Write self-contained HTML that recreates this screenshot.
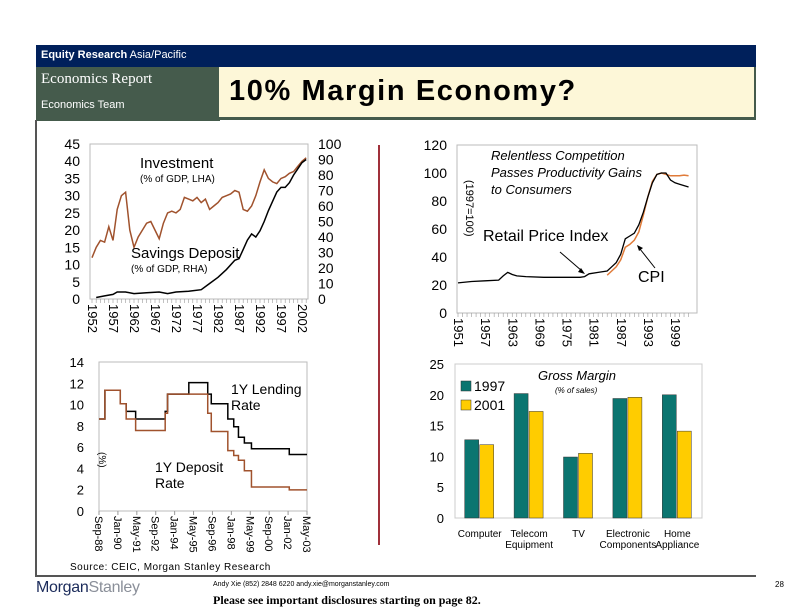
<!DOCTYPE html>
<html><head><meta charset="utf-8"><style>
body{margin:0;width:792px;height:612px;background:#fff;position:relative;overflow:hidden;font-family:"Liberation Sans",sans-serif}
.a{position:absolute}
svg text{font-family:"Liberation Sans",sans-serif}
</style></head><body>
<div class="a" style="left:36px;top:45px;width:720px;height:22px;background:#00205b"></div>
<div class="a" style="left:41px;top:49px;color:#fff;font-size:11px"><b>Equity Research</b> Asia/Pacific</div>
<div class="a" style="left:36px;top:67px;width:184px;height:54px;background:#455b4c"></div>
<div class="a" style="left:41px;top:71px;color:#fff;font-size:15px;font-family:'Liberation Serif',serif">Economics Report</div>
<div class="a" style="left:41px;top:99px;color:#fff;font-size:11px">Economics Team</div>
<div class="a" style="left:219px;top:67px;width:535px;height:50px;background:#fdf7d8;border-right:2px solid #455b4c;border-bottom:3px solid #455b4c"></div>
<div class="a" style="left:229px;top:75px;font-size:29px;font-weight:bold;letter-spacing:1.6px;color:#000">10% Margin Economy?</div>
<div class="a" style="left:35px;top:120px;width:2px;height:456px;background:#555"></div>
<div class="a" style="left:35px;top:575px;width:721px;height:2px;background:#555"></div>
<div class="a" style="left:378px;top:145px;width:2px;height:400px;background:#a0303a"></div>
<div class="a" style="left:70px;top:562px;font-size:10px;letter-spacing:.5px">Source: CEIC, Morgan Stanley Research</div>
<div class="a" style="left:36px;top:579px;font-size:16px;color:#1a2a5a;letter-spacing:-0.3px">Morgan<span style="color:#8a8f99">Stanley</span></div>
<div class="a" style="left:213px;top:581px;font-size:7px">Andy Xie (852) 2848 6220 andy.xie@morganstanley.com</div>
<div class="a" style="left:213px;top:593px;font-size:12px;font-weight:bold;font-family:'Liberation Serif',serif">Please see important disclosures starting on page 82.</div>
<div class="a" style="left:775px;top:580px;font-size:8px">28</div>

<svg class="a" id="s" style="left:0;top:0" width="792" height="612"></svg>
<script>
// Chart 1
const c1Years=[1952,1953,1954,1955,1956,1957,1958,1959,1960,1961,1962,1963,1964,1965,1966,1967,1968,1969,1970,1971,1972,1973,1974,1975,1976,1977,1978,1979,1980,1981,1982,1983,1984,1985,1986,1987,1988,1989,1990,1991,1992,1993,1994,1995,1996,1997,1998,1999,2000,2001,2002,2003];
const c1Invest=[12,15,17,16.5,21,17,26,30,31,20,15,18,20,22,22.5,20,17.5,22,25,25.5,25,26,29.5,29,28.5,29.5,28,29,26,27,28,29.5,30,30.5,31.5,31,26,25.5,27,30,34,37.5,35,34,33.5,35,35.5,36.5,37,38.5,40,41];
const c1SavYears=[1953,1955,1957,1958,1960,1962,1965,1968,1970,1972,1975,1978,1980,1982,1984,1986,1987,1988,1989,1990,1991,1992,1993,1994,1995,1996,1997,1998,1999,2000,2001,2002,2003];
const c1Savings=[1,2,3,4.5,4.5,3.5,4,4.5,3.5,4.5,5,6,10,14,19,25,26,32,38,42,40,44,50,57,63,69,72,72,75,80,84,88,90];
const c1LeftTicks=[0,5,10,15,20,25,30,35,40,45];
const c1RightTicks=[0,10,20,30,40,50,60,70,80,90,100];
const c1XTicks=[1952,1957,1962,1967,1972,1977,1982,1987,1992,1997,2002];
// Chart 2
const c2RpiYears=[1951,1954,1957,1960,1961,1962,1963,1964,1966,1970,1975,1978,1979,1980,1982,1984,1985,1986,1987,1988,1989,1990,1991,1992,1993,1994,1995,1996,1997,1998,1999,2000,2001,2002];
const c2Rpi=[21.5,22.5,23,23.5,26.5,29,27.5,26.5,26,25.5,25.5,25.5,26,28,29,30,33,36,42,53,55,57,63,72,83,93,99,100,100,95,93,92,91,90];
const c2CpiYears=[1984,1985,1986,1987,1988,1989,1990,1991,1992,1993,1994,1995,1996,1997,1998,1999,2000,2001,2002];
const c2Cpi=[27,30,33,38,47,49,52,58,70,83,94,99,100,99,98,98,98,98.5,98];
const c2YTicks=[0,20,40,60,80,100,120];
const c2XTicks=[1951,1957,1963,1969,1975,1981,1987,1993,1999];
// Chart 3 (months since Sep-88)
const c3LendMonths=[0,5,18,23,31,56,58,76,92,95,109,114,118,123,129,161,176];
const c3Lend=[8.64,11.34,10.08,9.36,8.64,9.36,10.98,12.06,10.98,10.08,8.64,7.92,6.93,6.39,5.85,5.31,5.31];
const c3DepMonths=[0,5,18,23,31,56,58,92,95,109,114,118,123,129,161,176];
const c3Dep=[8.64,11.34,10.08,8.64,7.56,9.18,10.98,9.18,7.47,5.67,5.22,4.77,3.78,2.25,1.98,1.98];
const c3YTicks=[0,2,4,6,8,10,12,14];
const c3XLabels=["Sep-88","Jan-90","May-91","Sep-92","Jan-94","May-95","Sep-96","Jan-98","May-99","Sep-00","Jan-02","May-03"];
// Chart 4
const c4Cats=[["Computer"],["Telecom","Equipment"],["TV"],["Electronic","Components"],["Home","Appliance"]];
const c4V1997=[12.7,20.2,9.9,19.4,20.0];
const c4V2001=[11.9,17.3,10.5,19.6,14.1];
const c4YTicks=[0,5,10,15,20,25];

const S=document.getElementById('s');const NS='http://www.w3.org/2000/svg';
function el(t,a,txt){const e=document.createElementNS(NS,t);for(const k in a)e.setAttribute(k,a[k]);if(txt!==undefined)e.textContent=txt;S.appendChild(e);return e;}
function lin(x0,x1,d0,d1){return v=>x0+(v-d0)*(x1-x0)/(d1-d0);}
function pathOf(xs,ys,fx,fy,step){let d='';for(let i=0;i<xs.length;i++){const x=fx(xs[i]),y=fy(ys[i]);if(i==0)d='M'+x+','+y;else if(step)d+=' H'+x+' V'+y;else d+=' L'+x+','+y;}return d;}

// ---- Chart 1
{const X=lin(92,302,1952,2002),YL=lin(299,144,0,45),YR=lin(299,144,0,100);
let f=el('rect',{x:90,y:144,width:218,height:155,fill:'none',stroke:'#bbb'});

c1LeftTicks.forEach(t=>{let e=el('text',{x:80,y:YL(t)+5,'text-anchor':'end','font-size':14},t);});
c1RightTicks.forEach(t=>{let e=el('text',{x:318,y:YR(t)+5,'font-size':14},t);});
c1XTicks.forEach(t=>{let e=el('text',{x:0,y:0,'font-size':13,transform:`translate(${X(t)-4},304) rotate(90)`},t);});
for(let y=1952;y<=2003;y++)el('line',{x1:X(y),x2:X(y),y1:299,y2:303,stroke:'#999','stroke-width':.6});
let p=el('path',{d:pathOf(c1Years,c1Invest,X,YL),fill:'none',stroke:'#a0522d','stroke-width':1.5});

p=el('path',{d:pathOf(c1SavYears,c1Savings,X,YR),fill:'none',stroke:'#000','stroke-width':1.5});

let t=el('text',{x:140,y:168,'font-size':15},'Investment');
t=el('text',{x:140,y:182,'font-size':10},'(% of GDP, LHA)');
t=el('text',{x:131,y:258,'font-size':15},'Savings Deposit');
t=el('text',{x:131,y:272,'font-size':10},'(% of GDP, RHA)');}

// ---- Chart 2
{const X=lin(458,675,1951,1999),Y=lin(313,145,0,120);
let f=el('rect',{x:457,y:145,width:240,height:168,fill:'none',stroke:'#bbb'});

c2YTicks.forEach(t=>{let e=el('text',{x:447,y:Y(t)+5,'text-anchor':'end','font-size':14},t);});
c2XTicks.forEach(t=>{let e=el('text',{x:0,y:0,'font-size':13,transform:`translate(${X(t)-4},318) rotate(90)`},t);});
for(let y=1951;y<=2002;y++)el('line',{x1:X(y),x2:X(y),y1:313,y2:317,stroke:'#999','stroke-width':.6});
let p=el('path',{d:pathOf(c2CpiYears,c2Cpi,X,Y),fill:'none',stroke:'#e07b39','stroke-width':1.5});

p=el('path',{d:pathOf(c2RpiYears,c2Rpi,X,Y),fill:'none',stroke:'#000','stroke-width':1.3});

[['Relentless Competition',160],['Passes Productivity Gains',177],['to Consumers',194]].forEach(a=>{let e=el('text',{x:491,y:a[1],'font-size':13,'font-style':'italic'},a[0]);});
let t=el('text',{x:0,y:0,'font-size':11,transform:'translate(466,180) rotate(90)'},'(1997=100)');
t=el('text',{x:483,y:241,'font-size':16},'Retail Price Index');
t=el('text',{x:638,y:282,'font-size':16},'CPI');
el('line',{x1:560,y1:252,x2:582,y2:271,stroke:'#000'});el('path',{d:'M585,274 l-7,-2 l3,-4z',fill:'#000'});
el('line',{x1:655,y1:268,x2:640,y2:249,stroke:'#000'});el('path',{d:'M637,245 l6,3 l-4,3z',fill:'#000'});}

// ---- Chart 3
{const X=lin(99,307,0,176),Y=lin(511,362,0,14);
let f=el('rect',{x:99,y:362,width:208,height:149,fill:'none',stroke:'#bbb'});

c3YTicks.forEach(t=>{let e=el('text',{x:84,y:Y(t)+5,'text-anchor':'end','font-size':13},t);});
c3XLabels.forEach((t,i)=>{const x=X(i*16);el('line',{x1:x,x2:x,y1:511,y2:515,stroke:'#999'});let e=el('text',{x:0,y:0,'font-size':11,transform:`translate(${x-4},516) rotate(90)`},t);});
let p=el('path',{d:pathOf(c3LendMonths,c3Lend,X,Y,true),fill:'none',stroke:'#000','stroke-width':1.5});

p=el('path',{d:pathOf(c3DepMonths,c3Dep,X,Y,true),fill:'none',stroke:'#a0522d','stroke-width':1.5});

let t=el('text',{x:231,y:394,'font-size':14},'1Y Lending');
t=el('text',{x:231,y:410,'font-size':14},'Rate');
t=el('text',{x:155,y:472,'font-size':14},'1Y Deposit');
t=el('text',{x:155,y:488,'font-size':14},'Rate');
t=el('text',{x:0,y:0,'font-size':10,transform:'translate(99,452) rotate(90)'},'(%)');}

// ---- Chart 4
{const Y=lin(518,364,0,25);const x0=455,gw=49.4,bw=14;
let f=el('rect',{x:455,y:364,width:247,height:154,fill:'none',stroke:'#ccc'});

c4YTicks.forEach(t=>{let e=el('text',{x:444,y:Y(t)+5,'text-anchor':'end','font-size':13},t);});
c4Cats.forEach((c,i)=>{const cx=x0+gw*(i+.5);
let r=el('rect',{x:cx-bw-1,y:Y(c4V1997[i]),width:bw,height:518-Y(c4V1997[i]),fill:'#0b7570',stroke:'#333','stroke-width':.5});

r=el('rect',{x:cx,y:Y(c4V2001[i]),width:bw,height:518-Y(c4V2001[i]),fill:'#ffcc00',stroke:'#333','stroke-width':.5});

c.forEach((s,j)=>{let e=el('text',{x:cx,y:537+j*11,'text-anchor':'middle','font-size':10},s);});});
let r=el('rect',{x:461,y:381,width:10,height:10,fill:'#0b7570',stroke:'#333','stroke-width':.5});
r=el('rect',{x:461,y:400,width:10,height:10,fill:'#ffcc00',stroke:'#333','stroke-width':.5});
let t=el('text',{x:474,y:391,'font-size':14},'1997');
t=el('text',{x:474,y:410,'font-size':14},'2001');
t=el('text',{x:538,y:380,'font-size':13,'font-style':'italic'},'Gross Margin');
t=el('text',{x:555,y:393,'font-size':8,'font-style':'italic'},'(% of sales)');}
</script>
</body></html>
